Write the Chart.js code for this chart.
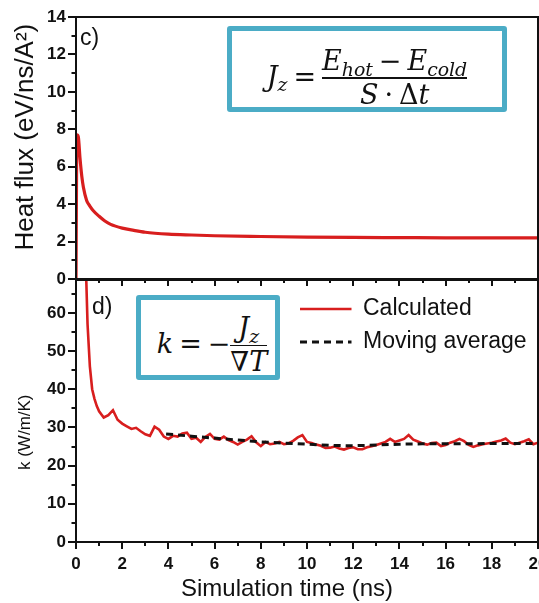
<!DOCTYPE html>
<html>
<head>
<meta charset="utf-8">
<title>Heat flux and thermal conductivity</title>
<script src="https://cdn.jsdelivr.net/npm/chart.js@4.4.1/dist/chart.umd.min.js"></script>
<style>
  html, body { margin: 0; padding: 0; background: #fff; }
  #page { position: relative; width: 539px; height: 603px; overflow: hidden; }
  #page canvas { position: absolute; left: 0; }
  #fluxChart { top: 0; z-index: 2; }
  #kChart { top: 262px; z-index: 1; }
  .eq {
    position: absolute; z-index: 3; box-sizing: border-box;
    border: 5px solid #4bacc6; border-radius: 3px; background: #fff;
    display: flex; align-items: center; justify-content: center;
    font-family: 'DejaVu Serif', serif; font-size: 27px;
    color: #111; white-space: nowrap;
  }
  .eq sub { font-size: 0.7em; vertical-align: -0.3em; line-height: 0; }
  .eq .op { margin: 0 0.22em; }
  .frac { display: inline-flex; flex-direction: column; align-items: center; vertical-align: middle; line-height: 1.05; }
  .frac .bar { align-self: stretch; height: 1.5px; background: #111; margin: 2px 0; }
</style>
</head>
<body>
<div id="page">
  <canvas id="kChart" width="539" height="341"></canvas>
  <canvas id="fluxChart" width="539" height="300"></canvas>

  <div class="eq" style="left:227px; top:26px; width:280px; height:86px; padding-top:18px;">
    <span><i>J</i><sub><i>z</i></sub><span class="op">=</span><span class="frac">
      <span><i>E</i><sub><i>hot</i></sub><span class="op">−</span><i>E</i><sub><i>cold</i></sub></span>
      <span class="bar"></span>
      <span><i>S</i><span class="op">·</span>Δ<i>t</i></span>
    </span></span>
  </div>

  <div class="eq" style="left:136px; top:295px; width:144px; height:85px; padding-top:16px; padding-left:8px;">
    <span><i>k</i><span class="op">=</span>−<span class="frac">
      <span><i>J</i><sub><i>z</i></sub></span>
      <span class="bar"></span>
      <span>∇<i>T</i></span>
    </span></span>
  </div>
</div>

<script>
// Panel c) heat flux, eV/ns/A^2
const fluxTime = [0, 0.04, 0.1, 0.17, 0.25, 0.32, 0.46, 0.6, 0.75, 1.0, 1.25, 1.5, 2, 2.5, 3, 4, 5, 6, 8, 10, 12, 14, 16, 18, 20];
const fluxValue = [0, 7.7, 7.6, 6.5, 5.5, 4.9, 4.2, 3.9, 3.65, 3.35, 3.1, 2.92, 2.72, 2.6, 2.5, 2.4, 2.35, 2.31, 2.27, 2.24, 2.22, 2.21, 2.2, 2.2, 2.2];

// Panel d) thermal conductivity, W/m/K
const kTime = [
  0.4, 0.5, 0.6, 0.7, 0.8, 0.9, 1.0,
  1.2, 1.4, 1.6, 1.8, 2.0, 2.2, 2.4, 2.6, 2.8, 3.0,
  3.2, 3.4, 3.6, 3.8, 4.0, 4.2, 4.4, 4.6, 4.8, 5.0,
  5.2, 5.4, 5.6, 5.8, 6.0, 6.2, 6.4, 6.6, 6.8, 7.0,
  7.2, 7.4, 7.6, 7.8, 8.0, 8.2, 8.4, 8.6, 8.8, 9.0,
  9.2, 9.4, 9.6, 9.8, 10.0, 10.2, 10.4, 10.6, 10.8, 11.0,
  11.2, 11.4, 11.6, 11.8, 12.0, 12.2, 12.4, 12.6, 12.8, 13.0,
  13.2, 13.4, 13.6, 13.8, 14.0, 14.2, 14.4, 14.6, 14.8, 15.0,
  15.2, 15.4, 15.6, 15.8, 16.0, 16.2, 16.4, 16.6, 16.8, 17.0,
  17.2, 17.4, 17.6, 17.8, 18.0, 18.2, 18.4, 18.6, 18.8, 19.0,
  19.2, 19.4, 19.6, 19.8, 20.0
];
const kCalc = [
  78, 57, 46, 40, 37.5, 35.6, 34.2,
  32.6, 33.2, 34.5, 32.0, 31.0, 30.3, 29.6, 29.9, 29.0, 28.2,
  27.8, 30.2, 29.4, 27.6, 27.0, 27.8, 27.6, 28.4, 28.6, 27.0,
  27.3, 26.2, 27.5, 28.3, 27.0, 26.8, 27.6, 26.7, 26.2, 25.5,
  26.2, 26.8, 27.7, 26.1, 25.1, 26.2, 25.6, 25.8, 26.2, 25.6,
  25.8, 26.5, 27.4, 28.0, 26.2, 25.9, 25.5, 25.2, 24.6, 24.7,
  25.0, 24.5, 24.2, 24.6, 24.8, 24.3, 24.3, 24.8, 25.1, 25.4,
  25.8, 26.2, 27.0, 26.2, 26.6, 27.0, 28.0, 26.8, 26.3, 25.8,
  25.5, 25.9, 26.0, 25.1, 25.4, 26.0, 26.4, 27.0, 26.4, 25.4,
  24.9, 25.3, 25.6, 25.8, 26.0, 26.3, 26.6, 27.1, 26.0, 25.6,
  26.0, 26.4, 26.9, 25.6, 26.0
];
const avgTime = [3.9, 5, 6, 7, 8, 9, 10, 11, 12, 13, 14, 15, 16, 17, 18, 19, 20];
const avgK = [28.3, 27.7, 27.2, 26.7, 26.2, 25.9, 25.6, 25.3, 25.2, 25.4, 25.6, 25.7, 25.7, 25.7, 25.8, 25.8, 25.8];

// axis ranges and tick steps
const timeRange = [0, 20];
const fluxRange = [0, 14];
const kRange = [0, 68.6];
const timeMajor = 2, timeMinor = 1;
const fluxMajor = 2, fluxMinor = 1;
const kMajor = 10, kMinor = 5;

const toPoints = (xs, ys) => xs.map((x, i) => ({ x, y: ys[i] }));

const sans = "'Liberation Sans', Arial, sans-serif";
const ink = '#111';
const red = '#d81e1e';
Chart.defaults.font.family = sans;
Chart.defaults.color = ink;

const tickFont = { family: sans, size: 17, weight: 'bold' };

// outward tick marks on the bottom and left axes
function tickMarks(chart, xMajor, xMinor, yMajor, yMinor) {
  const { ctx, chartArea: a, scales } = chart;
  ctx.lineWidth = 2;
  ctx.beginPath();
  const xs = scales.x, ys = scales.y;
  for (let v = xs.min; v <= xs.max + 1e-6; v += xMinor) {
    const len = Math.abs(v % xMajor) < 1e-6 ? 7 : 4;
    const p = Math.round(xs.getPixelForValue(v));
    ctx.moveTo(p, a.bottom);
    ctx.lineTo(p, a.bottom + len);
  }
  for (let v = ys.min; v <= ys.max + 1e-6; v += yMinor) {
    const len = Math.abs(v % yMajor) < 1e-6 ? 8 : 4.5;
    const p = Math.round(ys.getPixelForValue(v));
    ctx.moveTo(a.left - len, p);
    ctx.lineTo(a.left, p);
  }
  ctx.stroke();
}

// box around the plot, ticks and the panel letter
const framePlugin = {
  id: 'frame',
  afterDraw(chart, args, opts) {
    const { ctx, chartArea: a } = chart;
    ctx.save();
    ctx.strokeStyle = ink;
    ctx.fillStyle = ink;
    ctx.lineWidth = 2;
    ctx.strokeRect(a.left, a.top, a.right - a.left, a.bottom - a.top);
    tickMarks(chart, timeMajor, timeMinor, chart.canvas.id === 'fluxChart' ? fluxMajor : kMajor,
      chart.canvas.id === 'fluxChart' ? fluxMinor : kMinor);
    ctx.font = '23px ' + sans;
    ctx.textBaseline = 'middle';
    ctx.fillText(opts.tag, a.left + opts.tagX, a.top + opts.tagY);
    ctx.restore();
  }
};

// puts the legend in the upper right of the plot
const legendSpot = {
  id: 'legendSpot',
  beforeDraw(chart, args, opts) {
    const lg = chart.legend;
    if (!lg) return;
    lg.left = opts.left;
    lg.top = opts.top;
    lg.right = chart.chartArea.right;
    lg.bottom = chart.chartArea.bottom;
  }
};

const noGrid = { display: false, drawTicks: false };

// --- Heat flux chart ---
new Chart(document.getElementById('fluxChart'), {
  type: 'line',
  data: {
    datasets: [{
      label: 'Heat flux',
      data: toPoints(fluxTime, fluxValue),
      borderColor: red,
      borderWidth: 3.2,
      pointRadius: 0,
      cubicInterpolationMode: 'monotone'
    }]
  },
  options: {
    responsive: false,
    animation: false,
    layout: { padding: { left: 0, right: 1, top: 17, bottom: 21 } },
    plugins: {
      legend: { display: false },
      tooltip: { enabled: false },
      frame: { tag: 'c)', tagX: 4, tagY: 22 }
    },
    scales: {
      x: {
        type: 'linear', min: timeRange[0], max: timeRange[1],
        ticks: { stepSize: timeMajor, display: false },
        grid: noGrid, border: { display: false },
        afterFit: s => { s.height = 0; s.paddingLeft = 0; s.paddingRight = 0; }
      },
      y: {
        type: 'linear', min: fluxRange[0], max: fluxRange[1],
        ticks: { stepSize: fluxMajor, font: tickFont, color: ink, padding: 10 },
        grid: noGrid, border: { display: false },
        title: {
          display: true, text: '   Heat flux (eV/ns/A²)', color: ink,
          font: { family: sans, size: 26 }, padding: { top: 10, bottom: 0 }
        },
        afterFit: s => { s.width = 76; s.paddingTop = 0; s.paddingBottom = 0; }
      }
    }
  },
  plugins: [framePlugin]
});

// --- Thermal conductivity chart ---
new Chart(document.getElementById('kChart'), {
  type: 'line',
  data: {
    datasets: [{
      label: 'Calculated',
      data: toPoints(kTime, kCalc),
      borderColor: red,
      backgroundColor: red,
      borderWidth: 2.6,
      pointRadius: 0,
      order: 1
    }, {
      label: 'Moving average',
      data: toPoints(avgTime, avgK),
      borderColor: ink,
      backgroundColor: ink,
      borderWidth: 3,
      borderDash: [7, 5],
      pointRadius: 0,
      order: 0
    }]
  },
  options: {
    responsive: false,
    animation: false,
    layout: { padding: { left: 0, right: 1, top: 18, bottom: 0 } },
    plugins: {
      tooltip: { enabled: false },
      legend: {
        position: 'chartArea',
        align: 'start',
        labels: {
          boxWidth: 51.5,
          boxHeight: 0,
          padding: 10,
          color: ink,
          font: { family: sans, size: 23 },
          sort: (a, b) => a.datasetIndex - b.datasetIndex
        }
      },
      legendSpot: { left: 290, top: 25.5 },
      frame: { tag: 'd)', tagX: 16, tagY: 28 }
    },
    scales: {
      x: {
        type: 'linear', min: timeRange[0], max: timeRange[1],
        ticks: { stepSize: timeMajor, font: tickFont, color: ink, padding: 12, maxRotation: 0, autoSkip: false },
        grid: noGrid, border: { display: false },
        title: {
          display: true, text: 'Simulation time (ns)      ', color: ink,
          font: { family: sans, size: 24, lineHeight: 1.1 }, padding: { top: 0, bottom: 0 }
        },
        afterFit: s => { s.height = 61; s.paddingLeft = 0; s.paddingRight = 0; }
      },
      y: {
        type: 'linear', min: kRange[0], max: kRange[1],
        ticks: { stepSize: kMajor, font: tickFont, color: ink, padding: 10, includeBounds: false },
        grid: noGrid, border: { display: false },
        title: {
          display: true, text: 'k (W/m/K)         ', color: ink,
          font: { family: sans, size: 17 }, padding: { top: 15, bottom: 0 }
        },
        afterFit: s => { s.width = 76; s.paddingTop = 0; s.paddingBottom = 0; }
      }
    }
  },
  plugins: [framePlugin, legendSpot]
});
</script>
</body>
</html>
